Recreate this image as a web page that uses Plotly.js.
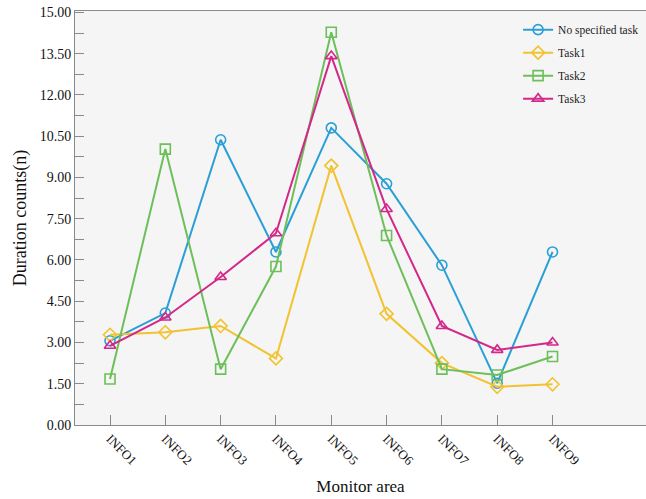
<!DOCTYPE html>
<html>
<head>
<meta charset="utf-8">
<script src="https://cdn.plot.ly/plotly-3.0.1.min.js"></script>
<style>html,body{margin:0;padding:0;background:#fff;}#chart{width:646px;height:499px;}</style>
</head>
<body>
<div id="chart"></div>
<script>
const categories = ["INFO1","INFO2","INFO3","INFO4","INFO5","INFO6","INFO7","INFO8","INFO9"];
const seriesNames = ["No specified task","Task1","Task2","Task3"];
const noTask = [3.06, 4.07, 10.37, 6.29, 10.80, 8.77, 5.81, 1.52, 6.29];
const task1  = [3.28, 3.37, 3.60, 2.42, 9.43, 4.04, 2.25, 1.39, 1.48];
const task2  = [1.67, 10.03, 2.03, 5.76, 14.28, 6.89, 2.03, 1.82, 2.49];
const task3  = [2.88, 3.91, 5.38, 6.97, 13.41, 7.85, 3.60, 2.73, 3.00];
const yTicks = [0, 1.5, 3, 4.5, 6, 7.5, 9, 10.5, 12, 13.5, 15];

const colors = ["#2a9fd6", "#f2c230", "#6dbf5a", "#d4278a"];
const symbols = ["circle-open", "diamond-open", "square-open", "triangle-up-open"];
const data = [noTask, task1, task2, task3].map((vals, i) => ({
  type: "scatter",
  mode: "lines+markers",
  name: seriesNames[i],
  x: categories,
  y: vals,
  legendgroup: "g" + i,
  line: {color: colors[i], width: 2},
  marker: {symbol: symbols[i], size: 10, color: colors[i], line: {color: colors[i], width: 1.6}}
}));

const serif = "Liberation Serif, Times New Roman, serif";
const layout = {
  width: 646, height: 499,
  margin: {l: 75, r: 0, t: 11, b: 74},
  paper_bgcolor: "#ffffff",
  plot_bgcolor: "#f5f5f5",
  font: {family: serif, color: "#111"},
  showlegend: true,
  legend: {
    x: 0.776, y: 0.99, xanchor: "left", yanchor: "top",
    bgcolor: "rgba(0,0,0,0)",
    font: {family: serif, size: 11.5, color: "#222"},
    tracegroupgap: 4
  },
  xaxis: {
    type: "category",
    range: [-0.633, 9.69],
    showgrid: false, zeroline: false,
    showline: true, linecolor: "#8a8a8a", linewidth: 1, mirror: true,
    ticks: "inside", ticklen: 10, tickcolor: "#8a8a8a",
    tickangle: 45,
    tickfont: {family: serif, size: 13, color: "#111"},
    title: {text: "Monitor area", font: {family: serif, size: 17, color: "#111"}, standoff: 12}
  },
  yaxis: {
    range: [0, 15.05],
    tickvals: yTicks,
    tickformat: ".2f",
    showgrid: false, zeroline: false,
    showline: true, linecolor: "#8a8a8a", linewidth: 1,
    ticks: "inside", ticklen: 9, tickcolor: "#8a8a8a",
    minor: {dtick: 0.75, ticks: "inside", ticklen: 9, tickcolor: "#8a8a8a"},
    tickfont: {family: serif, size: 14, color: "#111"},
    title: {text: "Duration counts(n)", font: {family: serif, size: 18, color: "#111"}, standoff: 8}
  }
};
Plotly.newPlot("chart", data, layout, {displayModeBar: false, staticPlot: true});
</script>
</body>
</html>
